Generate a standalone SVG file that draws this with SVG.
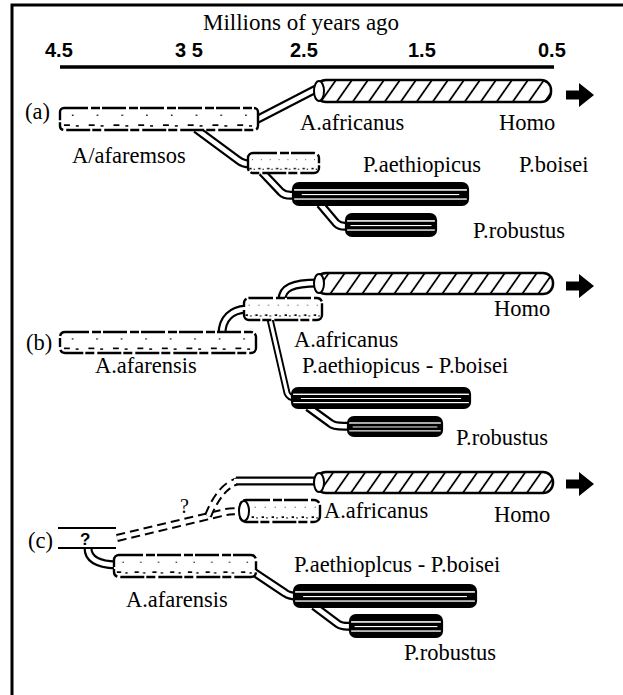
<svg xmlns="http://www.w3.org/2000/svg" width="623" height="695" viewBox="0 0 623 695">
<style>
text{font-family:"Liberation Serif","Times New Roman",serif;font-size:22.5px;fill:#000}
.title{font-size:23px}
.axis{font-family:"Liberation Sans",Arial,sans-serif;font-weight:bold;font-size:20px}
.q{font-family:"Liberation Sans",Arial,sans-serif;font-weight:bold;font-size:17px}
.dq{font-size:20px}
.hatch{fill:url(#hatch);stroke:#000;stroke-width:2.5}
.plain{fill:url(#speckle);stroke:#000;stroke-width:2.4;stroke-dasharray:24 3 9 2}
.dark{fill:url(#dark);stroke:#000;stroke-width:2.2}
.cap{fill:#fff;stroke:#000;stroke-width:2}
.to{fill:none;stroke:#000;stroke-width:9}
.ti{fill:none;stroke:#fff;stroke-width:4.6}
.to2{fill:none;stroke:#000;stroke-width:7}
.ti2{fill:none;stroke:#fff;stroke-width:3.2}
.do{fill:none;stroke:#000;stroke-width:8;stroke-dasharray:9 5}
.di{fill:none;stroke:#fff;stroke-width:4}
.line{fill:none;stroke:#000;stroke-width:3}
.thin{fill:none;stroke:#000;stroke-width:2}
</style>
<defs>
<pattern id="hatch" patternUnits="userSpaceOnUse" width="16" height="10" patternTransform="skewX(-35)">
<rect width="16" height="10" fill="#fff"/>
<path d="M8,0V10" stroke="#000" stroke-width="2.2"/>
</pattern>
<pattern id="speckle" patternUnits="objectBoundingBox" patternContentUnits="objectBoundingBox" width="0.125" height="1">
<rect width="0.125" height="1" fill="#fff"/>
<rect x="0.02" y="0.74" width="0.03" height="0.08" fill="#000"/>
<rect x="0.08" y="0.78" width="0.015" height="0.07" fill="#000"/>
<rect x="0.06" y="0.3" width="0.008" height="0.06" fill="#000"/>
</pattern>
<pattern id="dark" patternUnits="objectBoundingBox" patternContentUnits="objectBoundingBox" width="1" height="1">
<rect width="1" height="1" fill="#000"/>
<rect x="0" y="0.28" width="1" height="0.07" fill="#fff"/>
<rect x="0.05" y="0.5" width="0.9" height="0.05" fill="#fff"/>
<rect x="0" y="0.7" width="1" height="0.06" fill="#fff"/>
</pattern>
<path id="arrow" d="M0,-4.5 H13 V-12 L28,0 L13,12 V4.5 H0 Z" fill="#000"/>
</defs>
<rect width="623" height="695" fill="#fff"/>
<path class="line" d="M12,695 V5 H623"/>
<g id="axis">
<text class="title" x="203" y="30">Millions of years ago</text>
<text class="axis" x="45" y="57">4.5</text>
<text class="axis" x="175" y="57">3 5</text>
<text class="axis" x="290" y="57">2.5</text>
<text class="axis" x="408" y="57">1.5</text>
<text class="axis" x="538" y="57">0.5</text>
<path d="M60,67 H554" stroke="#000" stroke-width="3.5"/>
</g>
<g id="panel-labels">
<text x="25" y="119">(a)</text>
<text x="26" y="350">(b)</text>
<text x="28" y="548">(c)</text>
</g>
<g id="connectors">
<path class="to" d="M256,120 L316,89"/><path class="ti" d="M256,120 L316,89"/>
<path class="to" d="M196,129 L238,160 Q243,164 250,164"/><path class="ti" d="M196,129 L238,160 Q243,164 250,164"/>
<path class="to" d="M262,172 L281,192 Q285,196 294,195"/><path class="ti" d="M262,172 L281,192 Q285,196 294,195"/>
<path class="to" d="M320,204 L336,223 Q340,227 348,226"/><path class="ti" d="M320,204 L336,223 Q340,227 348,226"/>
<path class="to" d="M282,300 C282,288 292,283 318,283"/><path class="ti" d="M282,300 C282,288 292,283 318,283"/>
<path class="to" d="M222,334 C222,318 232,310 246,309"/><path class="ti" d="M222,334 C222,318 232,310 246,309"/>
<path class="to2" d="M270,319 L287,393 Q289,398 295,398"/><path class="ti2" d="M270,319 L287,393 Q289,398 295,398"/>
<path class="to" d="M308,407 L330,423 Q334,427 350,426"/><path class="ti" d="M308,407 L330,423 Q334,427 350,426"/>
<path class="do" d="M117,538 L226,512 Q232,511 242,511"/><path class="di" d="M117,538 L226,512 Q232,511 242,511"/>
<path class="do" d="M208,516 Q220,486 238,481"/><path class="di" d="M208,516 Q220,486 238,481"/>
<path class="to" d="M236,481 L318,481"/><path class="ti" d="M234,481 L318,481"/>
<path class="to" d="M88,548 Q88,564 116,565"/><path class="ti" d="M88,548 Q88,564 116,565"/>
<path class="to" d="M252,571 L285,593 Q289,596 296,596"/><path class="ti" d="M252,571 L285,593 Q289,596 296,596"/>
<path class="to" d="M314,606 L338,624 Q342,627 352,626"/><path class="ti" d="M314,606 L338,624 Q342,627 352,626"/>
<text class="dq" x="180" y="513">?</text>
</g>
<g id="a-afarensis">
<rect class="plain" x="60" y="108" width="198" height="22" rx="4"/>
<text x="72" y="163">A/afaremsos</text>
</g>
<g id="a-homo">
<rect class="hatch" x="316" y="80" width="235" height="22" rx="10"/>
<ellipse class="cap" cx="319" cy="91" rx="5" ry="10"/>
<use href="#arrow" x="566" y="95"/>
<text x="499" y="130">Homo</text>
</g>
<g id="a-africanus">
<text x="300" y="130">A.africanus</text>
</g>
<g id="a-aethiopicus">
<rect class="plain" x="248" y="153" width="71" height="20" rx="5"/>
<text x="363" y="172">P.aethiopicus</text>
</g>
<g id="a-boisei">
<rect class="dark" x="293" y="183" width="175" height="22" rx="6"/>
<text x="519" y="172">P.boisei</text>
</g>
<g id="a-robustus">
<rect class="dark" x="346" y="214" width="90" height="22" rx="6"/>
<text x="473" y="238">P.robustus</text>
</g>
<g id="b-homo">
<rect class="hatch" x="316" y="273" width="237" height="21" rx="10"/>
<ellipse class="cap" cx="319" cy="283.5" rx="5" ry="9.5"/>
<use href="#arrow" x="566" y="286"/>
<text x="494" y="316">Homo</text>
</g>
<g id="b-africanus">
<rect class="plain" x="244" y="298" width="78" height="22" rx="5"/>
<text x="294" y="347">A.africanus</text>
</g>
<g id="b-afarensis">
<rect class="plain" x="60" y="332" width="196" height="21" rx="5"/>
<text x="95" y="373">A.afarensis</text>
</g>
<g id="b-boisei">
<rect class="dark" x="292" y="388" width="178" height="20" rx="6"/>
<text x="302" y="373">P.aethiopicus - P.boisei</text>
</g>
<g id="b-robustus">
<rect class="dark" x="348" y="417" width="94" height="19" rx="6"/>
<text x="456" y="445">P.robustus</text>
</g>
<g id="c-homo">
<rect class="hatch" x="316" y="472" width="237" height="21" rx="10"/>
<ellipse class="cap" cx="319" cy="482.5" rx="5" ry="9.5"/>
<use href="#arrow" x="566" y="484"/>
<text x="494" y="522">Homo</text>
</g>
<g id="c-africanus">
<rect class="plain" x="240" y="500" width="80" height="22" rx="6"/>
<ellipse class="cap" cx="244" cy="511" rx="5" ry="10"/>
<text x="324" y="518">A.africanus</text>
</g>
<g id="c-unknown">
<path class="thin" d="M58,528 H116 M58,548 H116"/>
<text class="q" x="80" y="545">?</text>
</g>
<g id="c-afarensis">
<rect class="plain" x="114" y="555" width="142" height="22" rx="5"/>
<text x="126" y="607">A.afarensis</text>
</g>
<g id="c-boisei">
<rect class="dark" x="294" y="585" width="182" height="22" rx="6"/>
<text x="294" y="572">P.aethioplcus - P.boisei</text>
</g>
<g id="c-robustus">
<rect class="dark" x="350" y="615" width="92" height="22" rx="6"/>
<text x="404" y="660">P.robustus</text>
</g>
</svg>
